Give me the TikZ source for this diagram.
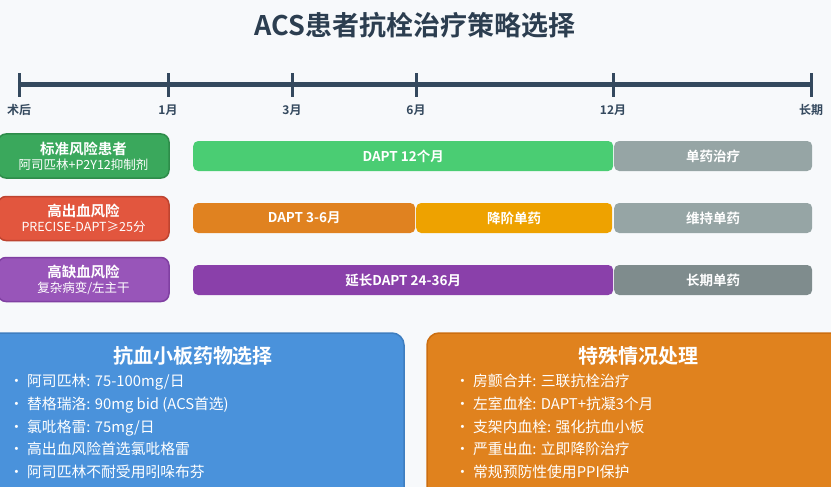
\documentclass[tikz,border=0pt]{standalone}
\usepackage{fontspec}
\setmainfont{Noto Sans CJK SC}[BoldFont={Noto Sans CJK SC Bold}]
\usetikzlibrary{positioning}
\definecolor{ink}{HTML}{34495E}
\definecolor{titleink}{HTML}{2C3E50}
\definecolor{paper}{HTML}{F7F9FB}
\definecolor{stdgreen}{RGB}{58,168,92}
\definecolor{stdgreenline}{RGB}{46,140,74}
\definecolor{bleedred}{RGB}{226,86,62}
\definecolor{bleedredline}{RGB}{190,68,48}
\definecolor{ischpurple}{RGB}{152,85,185}
\definecolor{ischpurpleline}{RGB}{128,64,162}
\definecolor{bargreen}{RGB}{74,205,115}
\definecolor{barorange}{RGB}{224,130,32}
\definecolor{baryellow}{RGB}{238,162,0}
\definecolor{bargray}{RGB}{150,165,165}
\definecolor{barpurple}{RGB}{138,64,170}
\definecolor{bardark}{RGB}{127,140,141}
\definecolor{panelblue}{RGB}{74,146,219}
\definecolor{panelblueline}{RGB}{62,126,192}
\definecolor{panelorange}{RGB}{224,130,30}
\definecolor{panelorangeline}{RGB}{204,110,16}
\newcommand{\itm}[1]{\makebox[18pt][l]{•}#1}

\begin{document}
\begin{tikzpicture}[x=1pt, y=-1pt,
  every node/.style={font=\fontsize{12.5}{15}\selectfont},
  ticklbl/.style={font=\bfseries\fontsize{12}{14}\selectfont, text=ink},
  risk/.style={draw, line width=1.5pt, rounded corners=8pt, minimum width=171pt,
               minimum height=44pt, inner sep=0pt, text=white, align=center},
  bar/.style={rounded corners=5pt, minimum height=30pt, inner sep=0pt, anchor=west,
              text=white, font=\bfseries\fontsize{13.5}{15}\selectfont},
  panel/.style={line width=1.5pt, rounded corners=12pt},
  paneltitle/.style={text=white, font=\bfseries\fontsize{20}{24}\selectfont},
  bullets/.style={text=white, align=left, anchor=north west, inner sep=0pt,
                  font=\fontsize{14.8}{22.7}\selectfont}
]
  % Page
  \fill[paper] (0,0) rectangle (831,487);
  \useasboundingbox (0,0) rectangle (831,487);
  \clip (0,0) rectangle (831,487);

  % Title
  \node[font=\bfseries\fontsize{27}{32}\selectfont, text=titleink] (title) at (415,25)
       {ACS患者抗栓治疗策略选择};

  % Timeline
  \coordinate (t0) at (19,85);
  \coordinate (t1) at (168,85);
  \coordinate (t2) at (292,85);
  \coordinate (t3) at (416,85);
  \coordinate (t4) at (613,85);
  \coordinate (t5) at (811,85);
  \draw[ink, line width=5pt] (t0) -- (t5);
  \draw[ink, line width=3pt]
    ([yshift=-12pt]t0) -- ([yshift=12pt]t0)
    ([yshift=-12pt]t1) -- ([yshift=12pt]t1)
    ([yshift=-12pt]t2) -- ([yshift=12pt]t2)
    ([yshift=-12pt]t3) -- ([yshift=12pt]t3)
    ([yshift=-12pt]t4) -- ([yshift=12pt]t4)
    ([yshift=-12pt]t5) -- ([yshift=12pt]t5);
  \node[ticklbl] (l0) at (19,110)  {术后};
  \node[ticklbl] (l1) at (168,110) {1月};
  \node[ticklbl] (l2) at (292,110) {3月};
  \node[ticklbl] (l3) at (416,110) {6月};
  \node[ticklbl] (l4) at (613,110) {12月};
  \node[ticklbl] (l5) at (811,110) {长期};

  % Risk groups
  \node[risk, fill=stdgreen, draw=stdgreenline] (std) at (83.5,156)
       {{\bfseries\fontsize{14.5}{17}\selectfont 标准风险患者}\\阿司匹林+P2Y12抑制剂};
  \node[risk, fill=bleedred, draw=bleedredline] (bleed) at (83.5,218.5)
       {{\bfseries\fontsize{14.5}{17}\selectfont 高出血风险}\\PRECISE-DAPT≥25分};
  \node[risk, fill=ischpurple, draw=ischpurpleline] (isch) at (83.5,279.5)
       {{\bfseries\fontsize{14.5}{17}\selectfont 高缺血风险}\\复杂病变/左主干};

  % Bars - standard risk
  \node[bar, fill=bargreen, minimum width=420pt] (dapt12) at (193,156) {DAPT 12个月};
  \node[bar, fill=bargray, minimum width=198pt] (mono1) at (614,156) {单药治疗};

  % Bars - high bleeding risk
  \node[bar, fill=barorange, minimum width=222pt] (dapt36) at (193,218) {DAPT 3-6月};
  \node[bar, fill=baryellow, minimum width=196pt] (deesc) at (416,218) {降阶单药};
  \node[bar, fill=bargray, minimum width=198pt] (mono2) at (614,218) {维持单药};

  % Bars - high ischemic risk
  \node[bar, fill=barpurple, minimum width=420pt] (daptlong) at (193,280) {延长DAPT 24-36月};
  \node[bar, fill=bardark, minimum width=198pt] (mono3) at (614,280) {长期单药};

  % Panels
  \draw[panel, fill=panelblue, draw=panelblueline] (-20,333) rectangle (404,530);
  \node[paneltitle] (antiplt) at (193,356) {抗血小板药物选择};
  \node[bullets] (antiplist) at (9,374)
       {\itm{阿司匹林: 75-100mg/日}\\
        \itm{替格瑞洛: 90mg bid (ACS首选)}\\
        \itm{氯吡格雷: 75mg/日}\\
        \itm{高出血风险首选氯吡格雷}\\
        \itm{阿司匹林不耐受用吲哚布芬}};

  \draw[panel, fill=panelorange, draw=panelorangeline] (427,333) rectangle (860,530);
  \node[paneltitle] (special) at (638,356) {特殊情况处理};
  \node[bullets] (speclist) at (455,374)
       {\itm{房颤合并: 三联抗栓治疗}\\
        \itm{左室血栓: DAPT+抗凝3个月}\\
        \itm{支架内血栓: 强化抗血小板}\\
        \itm{严重出血: 立即降阶治疗}\\
        \itm{常规预防性使用PPI保护}};
\end{tikzpicture}
\end{document}
